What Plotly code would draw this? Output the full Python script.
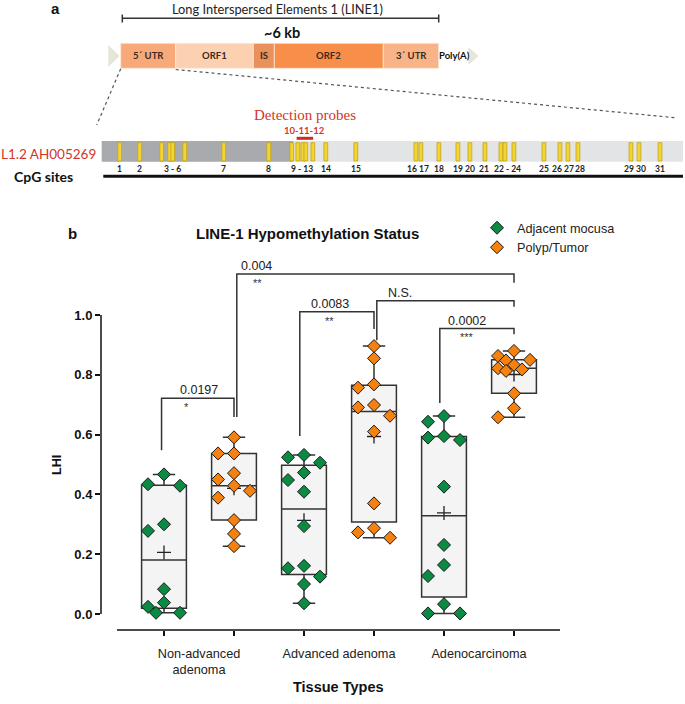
import numpy as np
import plotly.graph_objects as go

W, H = 685, 704

# ---------------- panel b data ----------------
categories = ["Non-advanced<br>adenoma", "Advanced adenoma", "Adenocarcinoma"]
series_names = ["Adjacent mocusa", "Polyp/Tumor"]

nonadv_adjacent = [0.467, 0.434, 0.429, 0.300, 0.278, 0.083, 0.038, 0.024, 0.004, 0.004]
nonadv_tumor = [0.591, 0.537, 0.537, 0.471, 0.450, 0.429, 0.412, 0.389, 0.314, 0.268, 0.227]
adv_adjacent = [0.532, 0.524, 0.506, 0.473, 0.448, 0.409, 0.294, 0.161, 0.153, 0.125, 0.100, 0.036]
adv_tumor = [0.896, 0.855, 0.768, 0.757, 0.699, 0.691, 0.663, 0.610, 0.370, 0.287, 0.273, 0.255]
carcinoma_adjacent = [0.662, 0.643, 0.595, 0.590, 0.582, 0.426, 0.231, 0.164, 0.127, 0.033, 0.002, 0.002]
carcinoma_tumor = [0.880, 0.863, 0.850, 0.848, 0.833, 0.822, 0.818, 0.813, 0.738, 0.688, 0.658]

y_ticks = [0.0, 0.2, 0.4, 0.6, 0.8, 1.0]

comparisons = [(0, 1), (1, 5), (2, 3), (3, 5), (4, 5)]
p_labels = ["0.0197", "0.004", "0.0083", "N.S.", "0.0002"]
star_labels = ["*", "**", "**", "", "***"]

# ---------------- panel a data ----------------
segments = ["5´ UTR", "ORF1", "IS", "ORF2", "3´ UTR"]
cpg_positions = [18, 38, 60, 68, 71, 83, 122, 167, 190, 196, 201, 204, 211, 224, 254,
                 314, 319, 337, 356, 368, 383, 399, 403, 412, 442, 458, 466, 476, 529, 537, 558]
fragment_length = 581
cpg_label_groups = [(1, 1), (2, 2), (3, 6), (7, 7), (8, 8), (9, 13), (14, 14), (15, 15),
                    (16, 16), (17, 17), (18, 18), (19, 19), (20, 20), (21, 21), (22, 24),
                    (25, 25), (26, 26), (27, 27), (28, 28), (29, 29), (30, 30), (31, 31)]
probe_sites = [10, 11, 12]

# ---------------- styles / layout geometry ----------------
COLORS = ["#0b8a44", "#f5820f"]
SEG_COLORS = ["#f7a97a", "#fcd1b2", "#e8915c", "#f78f4a", "#f9b388"]
SEG_EDGES_PX = [120.7, 175.7, 253.3, 274.3, 383.3, 438.7]
PLOT_L, PLOT_R, PLOT_T, PLOT_B = 101, 560, 260, 630
X_RANGE = [-0.9, 5.657]
Y_RANGE = [-0.0535, 1.184]
PX_X = (PLOT_R - PLOT_L) / (X_RANGE[1] - X_RANGE[0])
PX_Y = (PLOT_B - PLOT_T) / (Y_RANGE[1] - Y_RANGE[0])
AXIS_X_START = -0.671
SANS = "Liberation Sans"
CAL = "Lato"


def fx(p):
    return p / W


def fy(p):
    return 1 - p / H


def txt(px, py, text, size, color="#111", family=SANS, **kw):
    d = dict(x=fx(px), y=fy(py), xref="paper", yref="paper", text=text, showarrow=False,
             xanchor="center", yanchor="middle", font=dict(family=family, size=size, color=color))
    d.update(kw)
    return d


def swarm(vals, center, step_px=16.0, diam=12.0):
    placed = []
    xs = [0.0] * len(vals)
    order = sorted(range(len(vals)), key=lambda i: -vals[i])
    cands = [0, -1, 1, -0.5, 0.5]
    for i in order:
        ypx = vals[i] * PX_Y
        best, best_d = 0.0, -1.0
        for k in cands:
            xpx = k * step_px
            dmin = min([abs(xpx - a) + abs(ypx - b) for a, b in placed] + [1e9])
            if dmin >= diam:
                best = xpx
                break
            if dmin > best_d:
                best, best_d = xpx, dmin
        placed.append((best, ypx))
        xs[i] = center + best / PX_X
    return xs


groups = [[nonadv_adjacent, nonadv_tumor],
          [adv_adjacent, adv_tumor],
          [carcinoma_adjacent, carcinoma_tumor]]

fig = go.Figure()
box_info = []
for g, pair in enumerate(groups):
    for s, vals in enumerate(pair):
        pos = 2 * g + s
        a = np.asarray(vals)
        q1, med, q3 = np.percentile(a, [25, 50, 75], method="weibull")
        box_info.append((pos, a.min(), a.max(), a.mean()))
        fig.add_trace(go.Box(
            x=[pos], q1=[q1], median=[med], q3=[q3],
            lowerfence=[a.min()], upperfence=[a.max()],
            width=0.64, whiskerwidth=0.5, boxpoints=False,
            fillcolor="#f4f4f4", line=dict(color="#333333", width=1.5),
            showlegend=False, hoverinfo="skip"))

for pos, lo, hi, mean in box_info:
    fig.add_trace(go.Scatter(
        x=[pos], y=[mean], mode="markers", showlegend=False, hoverinfo="skip",
        marker=dict(symbol="cross-thin", size=10, line=dict(color="#222222", width=1.3))))

for g, pair in enumerate(groups):
    for s, vals in enumerate(pair):
        pos = 2 * g + s
        fig.add_trace(go.Scatter(
            x=swarm(vals, pos), y=vals, mode="markers",
            name=series_names[s], legendgroup=series_names[s], showlegend=(g == 0),
            marker=dict(symbol="diamond", size=10, color=COLORS[s],
                        line=dict(color="#1a1a1a", width=1))))

shapes = []
annotations = []

# axis lines (offset GraphPad style)
shapes.append(dict(type="line", xref="paper", yref="y", x0=fx(PLOT_L), x1=fx(PLOT_L),
                   y0=0, y1=1, line=dict(color="#111111", width=1.5)))
shapes.append(dict(type="line", xref="x", yref="paper", x0=AXIS_X_START, x1=X_RANGE[1],
                   y0=fy(PLOT_B), y1=fy(PLOT_B), line=dict(color="#111111", width=1.5)))

# significance brackets
bracket_top = [0.722, 1.137, 1.011, 1.048, 0.955]
left_bottom = [0.548, 0.659, 0.595, 0.916, 0.706]
right_bottom = [0.659, 1.108, 0.953, 1.028, 0.936]
left_dx = [-0.035, 0.04, -0.06, 0.04, -0.06]
text_dx = [0.53, 0.28, 0.43, 0.33, 0.39]
star_dx = [0.36, 0.29, 0.43, 0.33, 0.39]
for k, (i, j) in enumerate(comparisons):
    xl = box_info[i][0] + left_dx[k]
    xr = box_info[j][0]
    top = bracket_top[k]
    path = f"M {xl},{left_bottom[k]} L {xl},{top} L {xr},{top} L {xr},{right_bottom[k]}"
    shapes.append(dict(type="path", xref="x", yref="y", path=path,
                       line=dict(color="#333333", width=1.5)))
    annotations.append(dict(x=xl + text_dx[k], y=top + 0.026, xref="x", yref="y",
                            text=p_labels[k], showarrow=False, xanchor="center", yanchor="middle",
                            font=dict(family=SANS, size=12.5, color="#222")))
    if star_labels[k]:
        annotations.append(dict(x=xl + star_dx[k], y=top - 0.030, xref="x", yref="y",
                                text=star_labels[k], showarrow=False, xanchor="center",
                                yanchor="middle", font=dict(family=SANS, size=11, color="#333")))

# panel b titles
annotations.append(txt(72, 233, "<b>b</b>", 15))
annotations.append(txt(307, 233, "<b>LINE-1 Hypomethylation Status</b>", 15))
annotations.append(txt(57, 465, "<b>LHI</b>", 12.5, textangle=-90))
annotations.append(txt(338, 687, "<b>Tissue Types</b>", 14.5))

# ---------------- panel a schematic ----------------
annotations.append(txt(55, 8.5, "<b>a</b>", 15))
annotations.append(txt(277, 8.5, "Long Interspersed Elements 1 (LINE1)", 12.8, "#222", CAL))
shapes.append(dict(type="line", xref="paper", yref="paper", x0=fx(122.3), x1=fx(438.7),
                   y0=fy(18.3), y1=fy(18.3), line=dict(color="#333", width=1.5)))
for xe in (122.3, 438.7):
    shapes.append(dict(type="line", xref="paper", yref="paper", x0=fx(xe), x1=fx(xe),
                       y0=fy(14.5), y1=fy(22.5), line=dict(color="#333", width=1.5)))
annotations.append(txt(281.7, 32.5, "<b>~6 kb</b>", 14.5, "#111", CAL))

# triangles
for (xa, xb, ya, yb) in [(108.3, 119.5, 45, 67), (468.3, 478.5, 47, 65)]:
    path = (f"M {fx(xa)},{fy(ya)} L {fx(xb)},{fy((ya + yb) / 2)} L {fx(xa)},{fy(yb)} Z")
    shapes.append(dict(type="path", xref="paper", yref="paper", path=path,
                       fillcolor="#e6e6d8", line=dict(width=0)))

for k, name in enumerate(segments):
    x0, x1 = SEG_EDGES_PX[k], SEG_EDGES_PX[k + 1]
    shapes.append(dict(type="rect", xref="paper", yref="paper", x0=fx(x0), x1=fx(x1),
                       y0=fy(68.3), y1=fy(43.3), fillcolor=SEG_COLORS[k],
                       line=dict(color="#fde8d8", width=0.8)))
    annotations.append(txt((x0 + x1) / 2, 55.5, f"<b>{name}</b>", 9.5, "#3a2a20", CAL))
annotations.append(txt(454, 55.5, "<b>Poly(A)</b>", 9.5, "#111", CAL))

# dotted zoom lines
shapes.append(dict(type="line", xref="paper", yref="paper", x0=fx(120.7), y0=fy(68.8),
                   x1=fx(96.7), y1=fy(125), line=dict(color="#555", width=1.2, dash="dot")))
shapes.append(dict(type="line", xref="paper", yref="paper", x0=fx(175.7), y0=fy(69.5),
                   x1=fx(675), y1=fy(117.7), line=dict(color="#555", width=1.2, dash="dot")))

# CpG fragment bar
FRAG_X0, FRAG_X1 = 101.7, 683.0


def frag_px(p):
    return FRAG_X0 + p / fragment_length * (FRAG_X1 - FRAG_X0)


shapes.append(dict(type="rect", xref="paper", yref="paper", x0=fx(FRAG_X0), x1=fx(293),
                   y0=fy(161.7), y1=fy(141), fillcolor="#a9aaae", line=dict(width=0)))
shapes.append(dict(type="rect", xref="paper", yref="paper", x0=fx(293), x1=fx(FRAG_X1),
                   y0=fy(161.7), y1=fy(141), fillcolor="#e3e4e6", line=dict(width=0)))
for p in cpg_positions:
    c = frag_px(p)
    shapes.append(dict(type="rect", xref="paper", yref="paper", x0=fx(c - 1.9), x1=fx(c + 1.9),
                       y0=fy(161), y1=fy(142.7), fillcolor="#f4d430",
                       line=dict(color="#c3a515", width=0.8)))

# CpG labels with simple spreading to avoid overlap
lab_text, lab_x, lab_w = [], [], []
for a_, b_ in cpg_label_groups:
    t = str(a_) if a_ == b_ else f"{a_} - {b_}"
    lab_text.append(t)
    lab_x.append(float(np.mean([frag_px(cpg_positions[n - 1]) for n in range(a_, b_ + 1)])))
    lab_w.append(len(t) * 4.6)
for _ in range(60):
    for k in range(len(lab_x) - 1):
        need = (lab_w[k] + lab_w[k + 1]) / 2 + 2.6
        gap = lab_x[k + 1] - lab_x[k]
        if gap < need:
            d = (need - gap) / 2
            lab_x[k] -= d
            lab_x[k + 1] += d
for t, xx in zip(lab_text, lab_x):
    annotations.append(txt(xx, 168.5, f"<b>{t}</b>", 8.5, "#222", CAL))

shapes.append(dict(type="line", xref="paper", yref="paper", x0=fx(103.3), x1=fx(FRAG_X1),
                   y0=fy(176.3), y1=fy(176.3), line=dict(color="#111", width=3)))
annotations.append(txt(43, 176.5, "<b>CpG sites</b>", 14, "#111", CAL))
annotations.append(txt(48, 154.3, "L1.2 AH005269", 13.5, "#d3352a", CAL))

probe_c = float(np.mean([frag_px(cpg_positions[n - 1]) for n in probe_sites]))
annotations.append(txt(probe_c + 3, 115, "Detection probes", 15, "#d3352a", "Liberation Serif"))
annotations.append(txt(probe_c + 2, 131, "<b>" + "-".join(str(n) for n in probe_sites) + "</b>",
                       9.5, "#d3352a", CAL))
shapes.append(dict(type="line", xref="paper", yref="paper", x0=fx(probe_c - 5.5), x1=fx(probe_c + 11),
                   y0=fy(138.3), y1=fy(138.3), line=dict(color="#d32a1e", width=3)))

fig.update_layout(
    width=W, height=H, margin=dict(l=0, r=0, t=0, b=0),
    paper_bgcolor="white", plot_bgcolor="rgba(0,0,0,0)",
    font=dict(family=SANS, color="#222"),
    showlegend=True,
    legend=dict(x=fx(497 - 20), y=fy(213), xanchor="left", yanchor="top",
                font=dict(family=SANS, size=12.7, color="#222"),
                bgcolor="rgba(0,0,0,0)", tracegroupgap=0),
    xaxis=dict(domain=[fx(PLOT_L), fx(PLOT_R)], range=X_RANGE, showgrid=False, zeroline=False,
               showline=False, tickmode="array", tickvals=[0.5, 2.5, 4.5], ticktext=categories,
               ticks="", tickfont=dict(family=SANS, size=12.7, color="#222"),
               ticklabelstandoff=14,
               minor=dict(tickmode="array", tickvals=[0, 1, 2, 3, 4, 5], ticks="outside",
                          ticklen=5, tickwidth=1.5, tickcolor="#111", showgrid=False)),
    yaxis=dict(domain=[fy(PLOT_B), fy(PLOT_T)], range=Y_RANGE, showgrid=False,
               zeroline=False, showline=False, tickmode="array", tickvals=y_ticks,
               ticktext=[f"{t:.1f}" for t in y_ticks], ticks="outside", ticklen=5,
               tickwidth=1.5, tickcolor="#111",
               tickfont=dict(family=SANS, size=13, color="#111", weight="bold")),
    shapes=shapes, annotations=annotations,
)

# remove the browser's default 8px page margin so the figure sits at the window origin
fig.write_html("out.html", config={"displayModeBar": False},
               post_script="document.body.style.margin='0px';")
